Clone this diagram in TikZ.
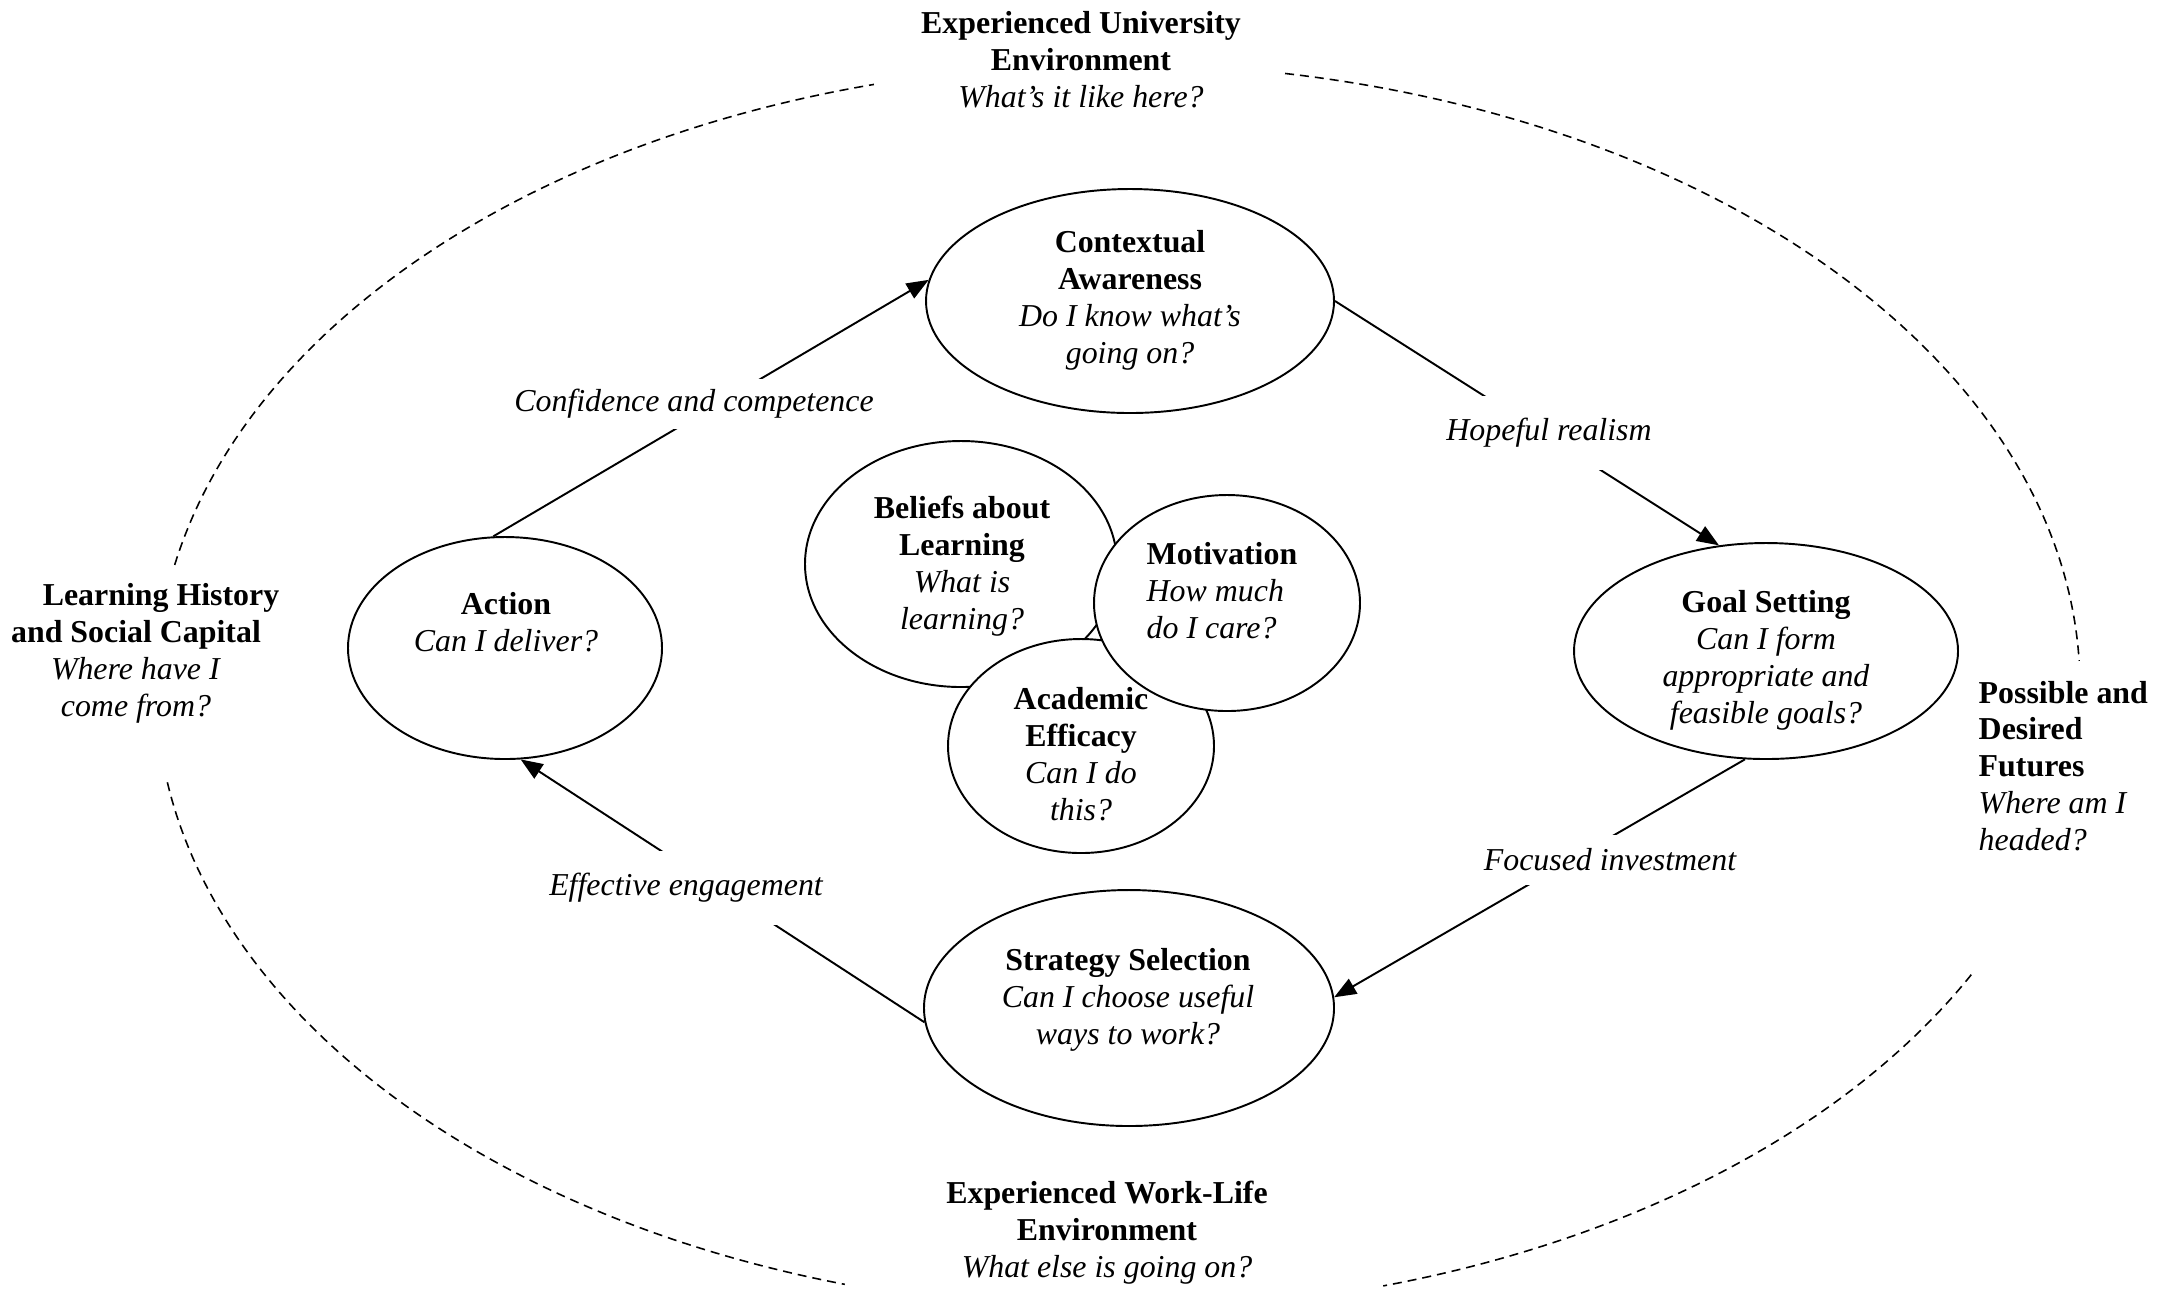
\documentclass[tikz,border=0pt]{standalone}
\usepackage{fontspec}
\setmainfont{Liberation Serif}
\usetikzlibrary{arrows.meta,shapes.geometric,calc}
\begin{document}
\begin{tikzpicture}[x=1cm,y=1cm,
  every node/.style={font=\fontsize{9.07}{10.5}\selectfont},
  bub/.style={draw, ellipse, fill=white, line width=0.55pt, inner sep=0pt},
  ttl/.style={align=center, inner sep=0pt},
  lbl/.style={fill=white, inner xsep=1pt, inner ysep=0pt, font=\fontsize{9.07}{10.5}\selectfont\itshape},
  conn/.style={line width=0.55pt, -{Triangle[length=0.22cm,width=0.17cm]}},
  env/.style={dash pattern=on 0.09cm off 0.06cm, line width=0.45pt}]
\useasboundingbox (0,0) rectangle (21.6,-12.89);
% outer environment ellipse (broken)
\coordinate (oc) at (11.18,-6.87);
\draw[env] ([shift={(168.7:9.62 and 6.23)}]oc) arc[start angle=168.7, end angle=104.7, x radius=9.62, y radius=6.23];
\draw[env] ([shift={(80:9.62 and 6.23)}]oc) arc[start angle=80, end angle=2.4, x radius=9.62, y radius=6.23];
\draw[env] ([shift={(-27.5:9.62 and 6.23)}]oc) arc[start angle=-27.5, end angle=-74, x radius=9.62, y radius=6.23];
\draw[env] ([shift={(188.8:9.62 and 6.23)}]oc) arc[start angle=188.8, end angle=253.5, x radius=9.62, y radius=6.23];
% cycle ellipses
\node[bub, minimum width=4.08cm, minimum height=2.24cm] (ctx) at (11.30,-3.01) {};
\node[bub, minimum width=3.14cm, minimum height=2.22cm] (act) at (5.05,-6.48) {};
\node[bub, minimum width=3.84cm, minimum height=2.16cm] (goal) at (17.66,-6.51) {};
\node[bub, minimum width=4.10cm, minimum height=2.36cm] (strat) at (11.29,-10.08) {};
% central overlapping ellipses
\node[bub, minimum width=3.12cm, minimum height=2.46cm] (bel) at (9.61,-5.64) {};
\node[bub, minimum width=2.66cm, minimum height=2.14cm] (aca) at (10.81,-7.46) {};
\node[bub, minimum width=2.66cm, minimum height=2.16cm] (mot) at (12.27,-6.03) {};
% texts in ellipses
\node[ttl] (ctxT) at (11.30,-3.00) {\textbf{Contextual}\\\textbf{Awareness}\\\textit{Do I know what’s}\\\textit{going on?}};
\node[ttl] (actT) at (5.06,-6.22) {\textbf{Action}\\\textit{Can I deliver?}};
\node[ttl] (goalT) at (17.66,-6.60) {\textbf{Goal Setting}\\\textit{Can I form}\\\textit{appropriate and}\\\textit{feasible goals?}};
\node[ttl] (stratT) at (11.28,-10.00) {\textbf{Strategy Selection}\\\textit{Can I choose useful}\\\textit{ways to work?}};
\node[ttl] (belT) at (9.62,-5.66) {\textbf{Beliefs about}\\\textbf{Learning}\\\textit{What is}\\\textit{learning?}};
\node[ttl, align=left, anchor=west] (motT) at (11.46,-5.91) {\textbf{Motivation}\\\textit{How much}\\\textit{do I care?}};
\node[ttl] (acaT) at (10.81,-7.54) {\textbf{Academic}\\\textbf{Efficacy}\\\textit{Can I do}\\\textit{this?}};
% connectors
\draw[conn] (act.96) -- (ctx.174);
\draw[conn] (ctx.east) -- (goal.114);
\draw[conn] (goal.259) -- (strat.3);
\draw[conn] (strat.184) -- (act.278);
% connector labels
\node[lbl, minimum height=0.5cm] (l1) at (6.94,-4.04) {Confidence and competence};
\node[lbl, minimum height=0.74cm] (l2) at (15.49,-4.33) {Hopeful realism};
\node[lbl, minimum height=0.5cm] (l3) at (16.10,-8.60) {Focused investment};
\node[lbl, minimum height=0.74cm] (l4) at (6.86,-8.88) {Effective engagement};
% environment texts
\node[ttl] (top) at (10.81,-0.60) {\textbf{Experienced University}\\\textbf{Environment}\\\textit{What’s it like here?}};
\node[ttl] (left) at (1.36,-6.53) {\hspace*{0.5cm}\textbf{Learning History}\\\textbf{and Social Capital}\\\textit{Where have I}\\\textit{come from?}};
\node[ttl, align=left, anchor=west] (right) at (19.78,-7.66) {\textbf{Possible and}\\\textbf{Desired}\\\textbf{Futures}\\\textit{Where am I}\\\textit{headed?}};
\node[ttl] (bottom) at (11.07,-12.33) {\textbf{Experienced Work-Life}\\\textbf{Environment}\\\textit{What else is going on?}};
\end{tikzpicture}
\end{document}
